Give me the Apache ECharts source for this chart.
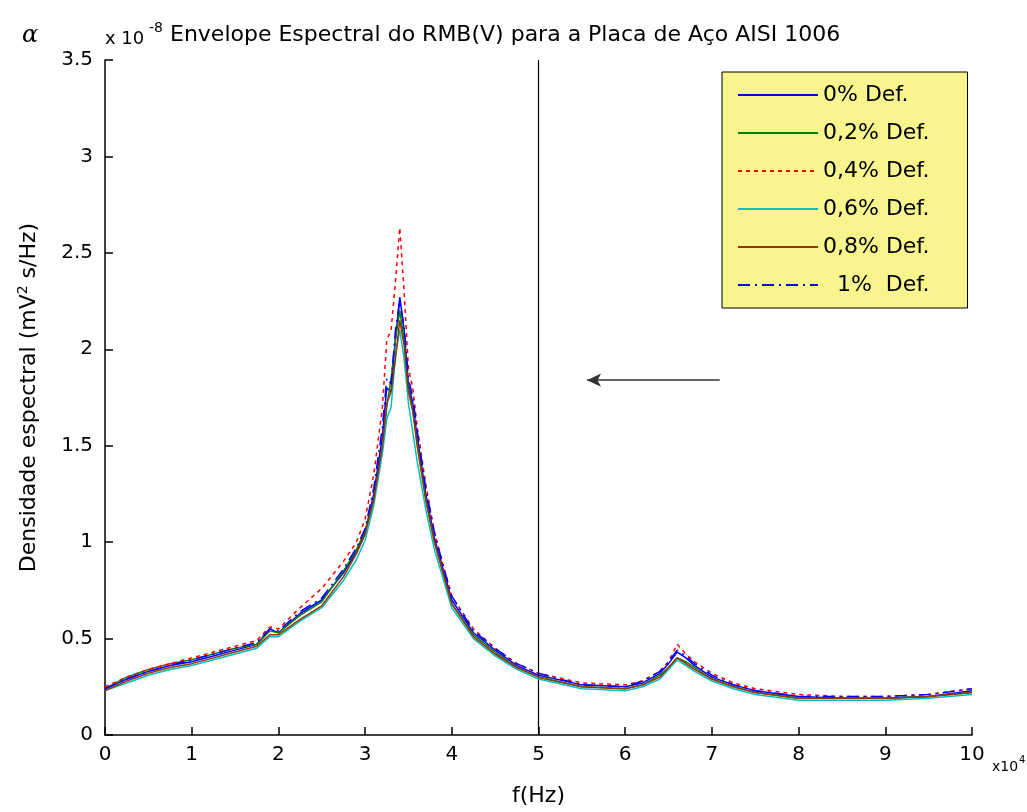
<!DOCTYPE html>
<html lang="pt">
<head>
    <meta charset="UTF-8">
    <title>Envelope Espectral do RMB(V)</title>
    <style>
        *{ margin: 0; }
        html,body{ height: 100%; background: #fff; }
        #chart{ width: 1027px; height: 812px; }
    </style>
    <script src="https://cdn.jsdelivr.net/npm/echarts@6/dist/echarts.min.js"></script>
</head>
<body>
<div id="chart"></div>
<script>
    // frequência em unidades de 1e4 Hz
    const freq = [0,0.25,0.5,0.75,1,1.25,1.5,1.75,1.9,2,2.25,2.5,2.75,2.9,3,3.1,3.2,3.25,3.3,3.35,
        3.4,3.45,3.5,3.55,3.6,3.7,3.8,3.9,4,4.25,4.5,4.75,5,5.5,6,6.2,6.4,6.5,6.6,6.7,
        6.8,7,7.25,7.5,8,8.5,9,9.5,10];
    // densidade espectral em unidades de 1e-8
    const def0 = [0.24,0.29,0.33,0.36,0.38,0.41,0.44,0.47,0.55,0.53,0.63,0.70,0.84,0.95,1.05,1.25,1.55,1.80,1.78,2.05,
        2.27,2.10,1.82,1.72,1.55,1.25,1.02,0.86,0.70,0.53,0.44,0.36,0.31,0.26,0.25,0.27,0.32,0.37,0.43,0.40,
        0.36,0.30,0.26,0.23,0.20,0.19,0.19,0.20,0.23];
    const def02 = [0.24,0.30,0.34,0.37,0.39,0.42,0.45,0.47,0.54,0.53,0.62,0.69,0.85,0.96,1.06,1.22,1.50,1.70,1.85,2.05,
        2.20,2.05,1.80,1.68,1.52,1.22,1.00,0.84,0.68,0.52,0.43,0.35,0.30,0.25,0.24,0.26,0.31,0.35,0.40,0.38,
        0.35,0.29,0.25,0.22,0.19,0.19,0.19,0.20,0.22];
    const def04 = [0.25,0.30,0.34,0.37,0.40,0.43,0.46,0.49,0.56,0.55,0.66,0.76,0.90,1.00,1.12,1.35,1.70,2.05,2.10,2.35,
        2.63,2.30,1.90,1.80,1.60,1.30,1.05,0.88,0.72,0.55,0.45,0.37,0.32,0.27,0.26,0.28,0.33,0.38,0.47,0.42,
        0.38,0.32,0.27,0.24,0.21,0.20,0.20,0.21,0.24];
    const def06 = [0.23,0.27,0.31,0.34,0.36,0.39,0.42,0.45,0.51,0.51,0.59,0.66,0.80,0.91,1.01,1.19,1.46,1.64,1.70,1.97,
        2.10,1.95,1.72,1.57,1.42,1.17,0.96,0.81,0.66,0.50,0.41,0.34,0.29,0.24,0.23,0.25,0.29,0.34,0.39,0.36,
        0.33,0.28,0.24,0.21,0.18,0.18,0.18,0.19,0.21];
    const def08 = [0.23,0.28,0.32,0.35,0.37,0.40,0.43,0.46,0.52,0.52,0.60,0.67,0.82,0.94,1.04,1.22,1.50,1.72,1.78,1.95,
        2.15,2.02,1.78,1.68,1.50,1.22,1.00,0.84,0.68,0.51,0.42,0.35,0.30,0.25,0.24,0.26,0.30,0.35,0.40,0.37,
        0.34,0.29,0.25,0.22,0.19,0.19,0.19,0.20,0.22];
    const def1 = [0.24,0.29,0.33,0.36,0.39,0.42,0.45,0.48,0.55,0.54,0.64,0.71,0.86,0.97,1.07,1.28,1.60,1.85,1.82,2.10,
        2.25,2.12,1.85,1.75,1.58,1.28,1.05,0.88,0.72,0.54,0.45,0.37,0.32,0.26,0.25,0.28,0.33,0.38,0.44,0.41,
        0.37,0.31,0.26,0.23,0.20,0.20,0.20,0.21,0.24];

    const seriesNames = ['0% Def.', '0,2% Def.', '0,4% Def.', '0,6% Def.', '0,8% Def.', '  1%  Def.'];
    const seriesColors = ['#0000ff', '#008000', '#ff0000', '#00bfbf', '#993300', '#0000ff'];
    const seriesDash = ['solid', 'solid', [4, 4], 'solid', 'solid', [12, 5, 2, 5]];
    const allData = [def0, def02, def04, def06, def08, def1];

    const cutLine = 5;                      // linha vertical em f = 5
    const arrowFrom = [7.09, 1.84], arrowTo = [5.56, 1.84];

    const font = 'DejaVu Sans, Liberation Sans, Arial, sans-serif';
    const myChart = echarts.init(document.getElementById('chart'));

    let series = allData.map(function (vals, i) {
        return {
            name: seriesNames[i],
            type: 'line',
            symbol: 'none',
            animation: false,
            data: freq.map(function (f, k) { return [f, vals[k]]; }),
            lineStyle: { color: seriesColors[i], width: 1.5, type: seriesDash[i] },
            itemStyle: { color: seriesColors[i] },
            z: 2 + i
        };
    });
    series[0].markLine = {
        silent: true, symbol: 'none', animation: false,
        label: { show: false },
        lineStyle: { color: '#000', width: 1.2, type: 'solid' },
        data: [{ xAxis: cutLine }]
    };
    series[1].markLine = {
        silent: true, symbol: ['none', 'arrow'], symbolSize: [10, 14], animation: false,
        label: { show: false },
        lineStyle: { color: '#333', width: 1.5, type: 'solid' },
        data: [[{ coord: arrowFrom }, { coord: arrowTo }]]
    };

    myChart.setOption({
        backgroundColor: '#fff',
        textStyle: { fontFamily: font },
        grid: { left: 105, right: 55, top: 60, bottom: 72 },
        legend: {
            orient: 'vertical',
            left: 722, top: 72,
            backgroundColor: '#f8f48e',
            borderColor: '#000', borderWidth: 1,
            padding: [12, 38, 12, 15],
            itemWidth: 80, itemHeight: 20, itemGap: 16,
            itemStyle: { opacity: 0 },
            textStyle: { fontSize: 22, color: '#000', fontFamily: font },
            data: seriesNames
        },
        xAxis: {
            type: 'value', min: 0, max: 10, interval: 1,
            name: 'f(Hz)', nameLocation: 'middle', nameGap: 50,
            nameTextStyle: { fontSize: 22, color: '#000' },
            axisLine: { onZero: false, lineStyle: { color: '#000', width: 1.5 } },
            axisTick: { inside: true, length: 8, lineStyle: { color: '#000', width: 1.5 } },
            axisLabel: { fontSize: 20, color: '#000', margin: 10 },
            splitLine: { show: false }
        },
        yAxis: {
            type: 'value', min: 0, max: 3.5, interval: 0.5,
            name: 'Densidade espectral (mV{s|2} s/Hz)', nameLocation: 'middle', nameGap: 63,
            nameTextStyle: {
                fontSize: 22, color: '#000',
                rich: { s: { fontSize: 14, verticalAlign: 'top', padding: [0, 0, 12, 0], color: '#000' } }
            },
            axisLine: { onZero: false, lineStyle: { color: '#000', width: 1.5 } },
            axisTick: { inside: true, length: 8, lineStyle: { color: '#000', width: 1.5 } },
            axisLabel: { fontSize: 20, color: '#000', margin: 12 },
            splitLine: { show: false }
        },
        graphic: [
            { type: 'text', left: 22, top: 24, style: { text: 'α', font: 'italic 24px DejaVu Serif', fill: '#000' } },
            { type: 'text', left: 105, top: 30, style: { text: 'x 10', font: '18px ' + font, fill: '#000' } },
            { type: 'text', left: 149, top: 21, style: { text: '-8', font: '14px ' + font, fill: '#000' } },
            { type: 'text', left: 170, top: 24, style: { text: 'Envelope Espectral do RMB(V) para a Placa de Aço AISI 1006', font: '22px ' + font, fill: '#000' } },
            { type: 'text', left: 992, top: 760, style: { text: 'x10', font: '14px ' + font, fill: '#000' } },
            { type: 'text', left: 1019, top: 755, style: { text: '4', font: '10px ' + font, fill: '#000' } }
        ],
        series: series
    });
    window.onresize = myChart.resize;
</script>
</body>
</html>
